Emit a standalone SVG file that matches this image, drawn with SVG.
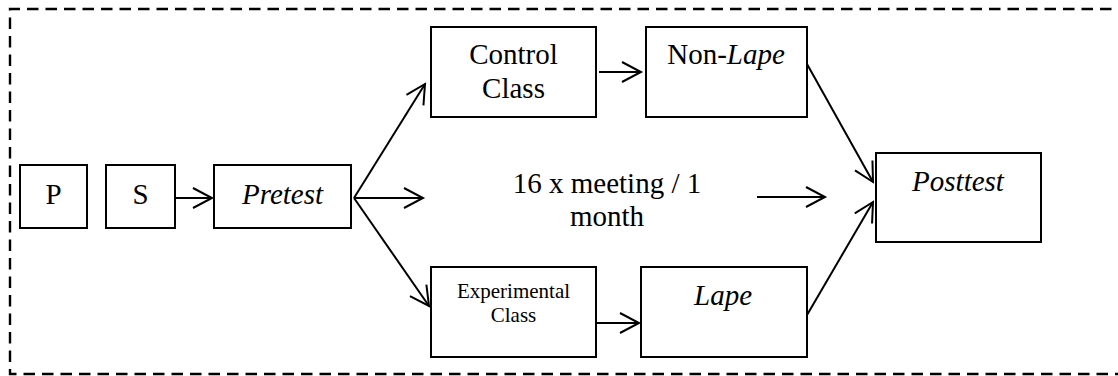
<svg xmlns="http://www.w3.org/2000/svg" width="1118" height="376" viewBox="0 0 1118 376">
  <style>
    .frame { fill: none; stroke: #000; stroke-width: 2.4; stroke-dasharray: 11.5 7; }
    .box { fill: #fff; stroke: #000; stroke-width: 2; }
    .lbl { font-family: "Liberation Serif", "Times New Roman", serif; font-size: 29px; fill: #000; text-anchor: middle; }
    .small { font-size: 21px; }
    .it { font-style: italic; }
    .conn { fill: none; stroke: #000; stroke-width: 2; marker-end: url(#head); }
  </style>
  <defs>
    <marker id="head" markerUnits="userSpaceOnUse" markerWidth="24" markerHeight="24" viewBox="-21 -12 24 24" refX="0" refY="0" orient="auto" overflow="visible">
      <path d="M-19,-10 L0,0 L-19,10" fill="none" stroke="#000" stroke-width="2"/>
    </marker>
  </defs>

  <!-- dashed frame (its right edge runs past the canvas) -->
  <path class="frame" d="M1130,9 H10 V374 H1130"/>

  <g id="connectors">
    <line class="conn" x1="172" y1="198" x2="212" y2="198"/>
    <line class="conn" x1="354" y1="198" x2="425" y2="84"/>
    <line class="conn" x1="354" y1="198" x2="423" y2="198"/>
    <line class="conn" x1="354" y1="198" x2="429" y2="306"/>
    <line class="conn" x1="599" y1="72" x2="641" y2="72"/>
    <line class="conn" x1="597" y1="323" x2="639" y2="323"/>
    <line class="conn" x1="757" y1="197" x2="825" y2="197"/>
    <line class="conn" x1="807" y1="64" x2="873" y2="182"/>
    <line class="conn" x1="807" y1="315" x2="873" y2="202"/>
  </g>

  <g id="node-p">
    <rect class="box" x="20" y="165" width="67" height="63"/>
    <text class="lbl" x="53.5" y="204">P</text>
  </g>
  <g id="node-s">
    <rect class="box" x="106" y="165" width="69" height="63"/>
    <text class="lbl" x="140.5" y="204">S</text>
  </g>
  <g id="node-pretest">
    <rect class="box" x="214" y="165" width="137" height="63"/>
    <text class="lbl it" x="282.5" y="204">Pretest</text>
  </g>
  <g id="node-control">
    <rect class="box" x="431" y="27" width="165" height="90"/>
    <text class="lbl" x="513.5" y="64">Control</text>
    <text class="lbl" x="513.5" y="98">Class</text>
  </g>
  <g id="node-nonlape">
    <rect class="box" x="646" y="27" width="161" height="90"/>
    <text class="lbl" x="726" y="64">Non-<tspan class="it">Lape</tspan></text>
  </g>
  <g id="node-meeting">
    <text class="lbl" x="607" y="193">16 x meeting / 1</text>
    <text class="lbl" x="607" y="226">month</text>
  </g>
  <g id="node-experimental">
    <rect class="box" x="431" y="267" width="165" height="90"/>
    <text class="lbl small" x="513.5" y="298">Experimental</text>
    <text class="lbl small" x="513.5" y="322">Class</text>
  </g>
  <g id="node-lape">
    <rect class="box" x="641" y="267" width="166" height="90"/>
    <text class="lbl it" x="723" y="305">Lape</text>
  </g>
  <g id="node-posttest">
    <rect class="box" x="876" y="153" width="165" height="89"/>
    <text class="lbl it" x="958" y="191">Posttest</text>
  </g>
</svg>
